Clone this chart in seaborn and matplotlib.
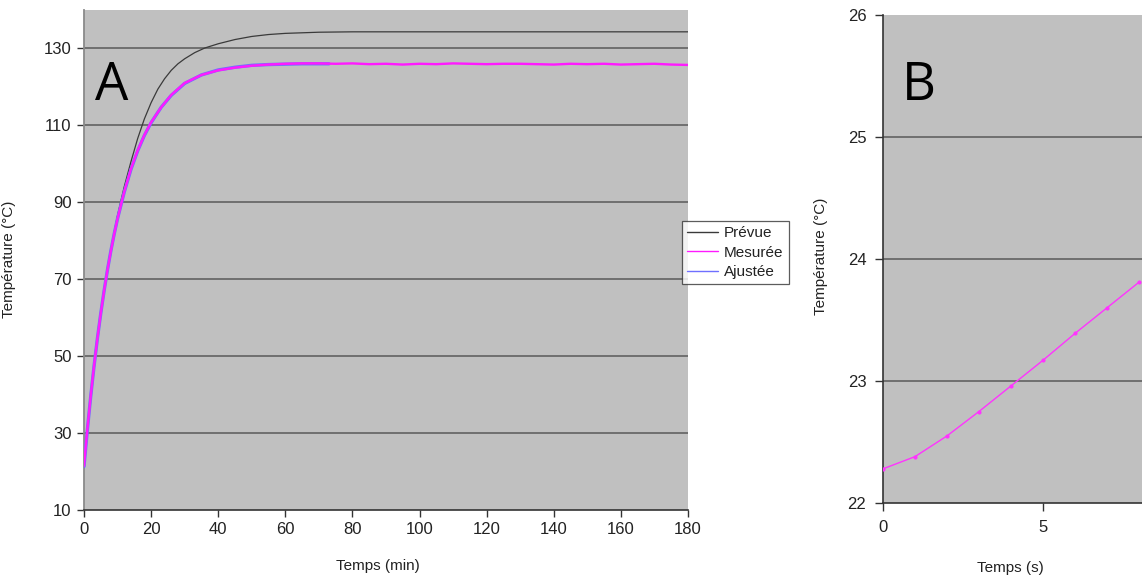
import matplotlib
matplotlib.use("Agg")
import matplotlib.pyplot as plt
import seaborn as sns
import pandas as pd

# ---- Panel A data (minutes, °C) ----
t_prevue = [0, 1, 2, 3, 4, 5, 6, 7, 8, 9, 10, 11, 12, 14, 16, 18, 20, 22, 24, 26, 28, 30,
            33, 36, 40, 45, 50, 55, 60, 70, 80, 100, 140, 180]
T_prevue = [22.0, 31.0, 39.6, 47.5, 54.6, 61.1, 67.0, 72.5, 77.5, 82.2, 86.5, 90.3, 94.0,
            100.5, 106.5, 111.6, 115.8, 119.3, 122.0, 124.2, 125.9, 127.2, 128.8, 130.0,
            131.1, 132.2, 133.0, 133.5, 133.8, 134.1, 134.2, 134.2, 134.2, 134.2]

t_mesuree = [0, 1, 2, 3, 4, 5, 6, 7, 8, 9, 10, 12, 14, 16, 18, 20, 23, 26, 30, 35, 40,
             45, 50, 55, 60, 65, 70, 75, 80, 85, 90, 95, 100, 105, 110, 115, 120, 125,
             130, 135, 140, 145, 150, 155, 160, 165, 170, 175, 180]
T_mesuree = [21.5, 31.0, 39.6, 47.5, 54.6, 61.1, 67.0, 72.4, 77.2, 81.7, 85.7, 92.7, 98.6,
             103.4, 107.4, 110.7, 114.6, 117.8, 120.9, 123.0, 124.2, 124.9, 125.4, 125.7,
             125.9, 126.0, 126.0, 125.9, 126.0, 125.8, 125.9, 125.7, 125.9, 125.8, 126.0,
             125.9, 125.8, 125.9, 125.9, 125.8, 125.7, 125.9, 125.8, 125.9, 125.7, 125.8,
             125.9, 125.7, 125.6]

t_ajustee = [0, 1, 2, 3, 4, 5, 6, 7, 8, 9, 10, 12, 14, 16, 18, 20, 23, 26, 30, 35, 40,
             45, 50, 55, 60, 65, 70, 73]
T_ajustee = [21.3, 30.8, 39.5, 47.4, 54.6, 61.1, 67.0, 72.4, 77.3, 81.7, 85.7, 92.6, 98.5,
             103.3, 107.3, 110.6, 114.6, 117.7, 120.8, 123.0, 124.3, 125.0, 125.5, 125.7,
             125.8, 125.9, 125.9, 125.9]

# ---- Panel B data (seconds, °C) ----
t_b = [0, 1, 2, 3, 4, 5, 6, 7, 8]
T_b = [22.28, 22.38, 22.55, 22.75, 22.96, 23.17, 23.39, 23.60, 23.81]

sns.set_style("white")
plt.rcParams['font.family'] = ['Liberation Sans', 'DejaVu Sans']

W, H = 1142, 583
fig = plt.figure(figsize=(W / 100, H / 100), dpi=100)
fig.patch.set_facecolor("white")

BG = "#c0c0c0"
GRID = "#5a5a5a"

def px_axes(left, top, right, bottom):
    return fig.add_axes([left / W, 1 - bottom / H, (right - left) / W, (bottom - top) / H])

# ---------------- Panel A ----------------
axA = px_axes(84, 9.5, 688, 510)
axA.set_facecolor(BG)
dfP = pd.DataFrame({"t": t_prevue, "T": T_prevue})
dfM = pd.DataFrame({"t": t_mesuree, "T": T_mesuree})
dfJ = pd.DataFrame({"t": t_ajustee, "T": T_ajustee})

for y in [30, 50, 70, 90, 110, 130]:
    axA.axhline(y, color=GRID, lw=1.1, zorder=1)

sns.lineplot(data=dfP, x="t", y="T", ax=axA, color="#3a3a3a", lw=0.9, label="Prévue", zorder=3)
sns.lineplot(data=dfJ, x="t", y="T", ax=axA, color="#6f6fff", lw=2.4, label="Ajustée", zorder=3)
sns.lineplot(data=dfM, x="t", y="T", ax=axA, color="#ff1aff", lw=1.7, label="Mesurée", zorder=4)

axA.set_xlim(0, 180)
axA.set_ylim(10, 140)
axA.set_xticks(range(0, 181, 20))
axA.set_yticks(range(10, 131, 20))
axA.tick_params(axis="both", direction="out", length=5, width=1, colors="#333333",
                labelsize=12, labelcolor="#222222", left=True, bottom=True, pad=4)
for s in ["top", "right"]:
    axA.spines[s].set_visible(False)
axA.spines["left"].set_color("#8a8a8a")
axA.spines["left"].set_linewidth(1.3)
axA.spines["bottom"].set_color("#333333")
axA.spines["bottom"].set_linewidth(1.2)
axA.set_xlabel("Temps (min)", fontsize=11, color="#222222")
axA.set_ylabel("Température (°C)", fontsize=11, color="#222222")
axA.xaxis.set_label_coords(0.487, -0.098)
axA.yaxis.set_label_coords(-0.112, 0.50)
axA.text((112 - 84) / 604, (510 - 86) / 500.5, "A", transform=axA.transAxes,
         fontsize=38, ha="center", va="center", color="black", family="Open Sans")

h, l = axA.get_legend_handles_labels()
order = [l.index("Prévue"), l.index("Mesurée"), l.index("Ajustée")]
handles = [h[i] for i in order]
labels = [l[i] for i in order]
axA.get_legend().remove()
leg = fig.legend(handles, labels, loc="upper left",
                 bbox_to_anchor=(682 / W, 1 - 221 / H), frameon=True, fancybox=False,
                 fontsize=11, handlelength=2.0, handletextpad=0.4, borderpad=0.35,
                 labelspacing=0.35, borderaxespad=0)
for line in leg.get_lines():
    line.set_linewidth(1.0)
leg.get_frame().set_edgecolor("#333333")
leg.get_frame().set_linewidth(0.9)
leg.get_frame().set_facecolor("white")
leg.set_zorder(10)
for txt in leg.get_texts():
    txt.set_color("#222222")

# ---------------- Panel B ----------------
axB = px_axes(883, 15, 883 + 320, 503)
axB.set_facecolor(BG)
for y in [23, 24, 25]:
    axB.axhline(y, color=GRID, lw=1.1, zorder=1)
dfB = pd.DataFrame({"t": t_b, "T": T_b})
sns.lineplot(data=dfB, x="t", y="T", ax=axB, color="#ff33ff", lw=1.0, marker="o",
             markersize=3, markeredgewidth=0, zorder=3)
axB.set_xlim(0, 10)
axB.set_ylim(22, 26)
axB.set_xticks([0, 5])
axB.set_yticks([22, 23, 24, 25, 26])
axB.tick_params(axis="both", direction="out", length=6, width=1, colors="#333333",
                labelsize=12, labelcolor="#222222", left=True, bottom=True, pad=6)
for s in ["top", "right"]:
    axB.spines[s].set_visible(False)
axB.spines["left"].set_color("#333333")
axB.spines["left"].set_linewidth(1.2)
axB.spines["bottom"].set_color("#333333")
axB.spines["bottom"].set_linewidth(1.2)
axB.set_xlabel("Temps (s)", fontsize=11, color="#222222")
axB.set_ylabel("Température (°C)", fontsize=11, color="#222222")
axB.xaxis.set_label_coords((1010 - 883) / 320, -0.118)
axB.yaxis.set_label_coords((828 - 883) / 320, 0.505)
axB.text((919 - 883) / 320, (503 - 86) / 488, "B", transform=axB.transAxes,
         fontsize=38, ha="center", va="center", color="black", family="Open Sans")

fig.savefig("out.png", dpi=100)
